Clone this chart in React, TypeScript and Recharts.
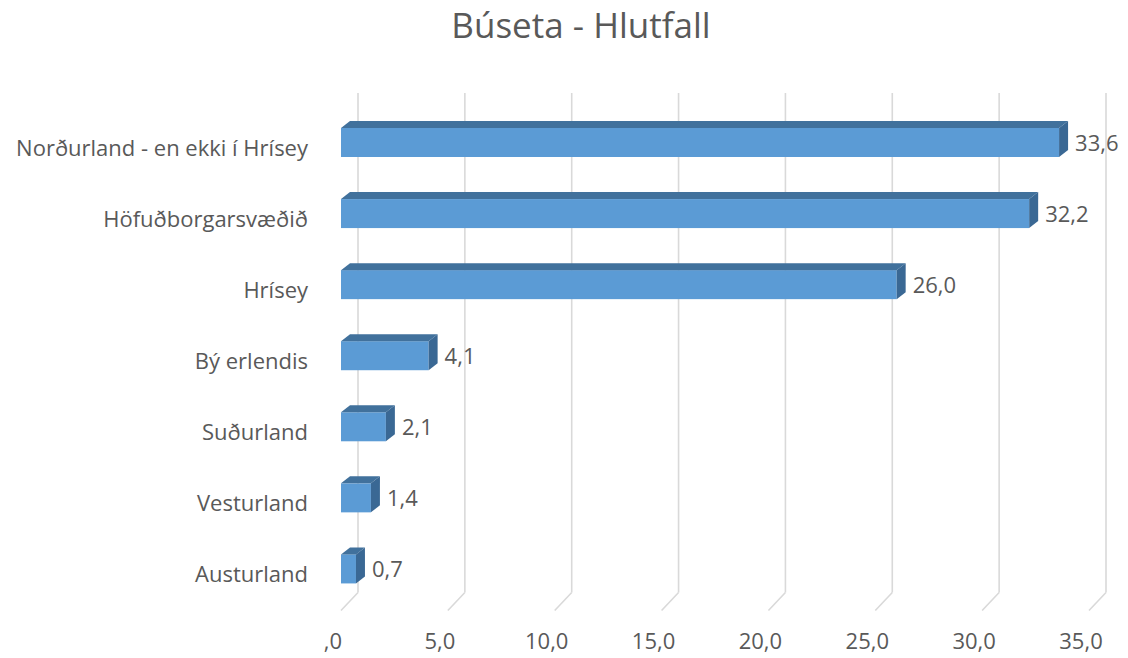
import React from "react";
import { BarChart, Bar, XAxis, YAxis, CartesianGrid, LabelList } from "recharts";

const categories = [
  "Norðurland - en ekki í Hrísey",
  "Höfuðborgarsvæðið",
  "Hrísey",
  "Bý erlendis",
  "Suðurland",
  "Vesturland",
  "Austurland",
];
const values = [33.6, 32.2, 26.0, 4.1, 2.1, 1.4, 0.7];
const xTicks = [0, 5, 10, 15, 20, 25, 30, 35];

const data = categories.map((name, i) => ({ name, value: values[i] }));

const FONT = "'Open Sans', sans-serif";
const TEXT = "#595959";
const DX = 9;
const DY = 7;
const GDX = 17;

const fmt = (v: number) => {
  const s = v.toFixed(1).replace(".", ",");
  return v === 0 ? ",0" : s;
};

const Bar3D = (props: any) => {
  const { x, y, width, height } = props;
  if (width == null || height == null) return null;
  const w = Math.max(width, 0);
  return (
    <g>
      <rect x={x} y={y} width={w} height={height} fill="#5B9BD5" />
      <polygon
        points={`${x},${y} ${x + DX},${y - DY} ${x + w + DX},${y - DY} ${x + w},${y}`}
        fill="#41719C"
      />
      <polygon
        points={`${x + w},${y} ${x + w + DX},${y - DY} ${x + w + DX},${y + height - DY} ${x + w},${y + height}`}
        fill="#3A6894"
      />
    </g>
  );
};

const GridLine = (props: any) => {
  const { x1, y1, y2 } = props;
  const bx = x1 + GDX;
  return (
    <g key={props.key}>
      <line x1={bx} y1={y1 - 14} x2={bx} y2={y2 - 12} stroke="#D9D9D9" strokeWidth={1.6} />
      <line x1={bx} y1={y2 - 12} x2={x1} y2={y2 + 6} stroke="#D9D9D9" strokeWidth={1.6} />
    </g>
  );
};

const XTick = (props: any) => {
  const { x, y, payload } = props;
  return (
    <text x={x - 8} y={y + 36} textAnchor="middle" fill={TEXT} fontSize={22} fontFamily={FONT}>
      {fmt(payload.value)}
    </text>
  );
};

const YTick = (props: any) => {
  const { y, payload } = props;
  return (
    <text x={308} y={y + 13.5} textAnchor="end" fill={TEXT} fontSize={22} fontFamily={FONT}>
      {payload.value}
    </text>
  );
};

const ValueLabel = (props: any) => {
  const { x, y, width, height, value } = props;
  return (
    <text
      x={x + width + DX + 7}
      y={y + height / 2 + 8.5}
      fill={TEXT}
      fontSize={22}
      fontFamily={FONT}
    >
      {fmt(value)}
    </text>
  );
};

export default function App() {
  return (
    <div style={{ position: "absolute", left: 0, top: 0, width: 1128, height: 658, background: "#fff" }}>
      <div
        style={{
          position: "absolute",
          left: 0,
          top: 0,
          width: 1128,
          textAlign: "center",
          fontFamily: FONT,
          fontSize: 35,
          color: TEXT,
          lineHeight: "1",
          paddingTop: 7,
          paddingLeft: 34,
          boxSizing: "border-box",
        }}
      >
        Búseta - Hlutfall
      </div>
      <BarChart
        width={1128}
        height={658}
        data={data}
        layout="vertical"
        margin={{ top: 107, right: 39, bottom: 0, left: 0 }}
      >
        <CartesianGrid horizontal={false} vertical={GridLine} />
        <XAxis
          type="number"
          domain={[0, 35]}
          ticks={xTicks}
          axisLine={false}
          tickLine={false}
          height={53.5}
          tick={XTick}
          interval={0}
        />
        <YAxis
          type="category"
          dataKey="name"
          width={341}
          axisLine={false}
          tickLine={false}
          tick={YTick}
          interval={0}
        />
        <Bar dataKey="value" barSize={29} shape={Bar3D} isAnimationActive={false}>
          <LabelList dataKey="value" content={ValueLabel} />
        </Bar>
      </BarChart>
    </div>
  );
}
